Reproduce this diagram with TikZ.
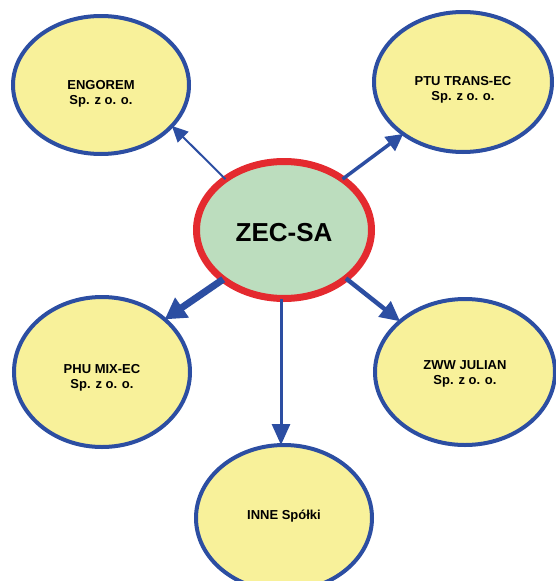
\documentclass[tikz,border=0pt]{standalone}
\usepackage{fontspec}
\setmainfont{Liberation Sans}
\usetikzlibrary{shapes.geometric,arrows.meta}
\definecolor{cblue}{HTML}{2C4EA2}
\definecolor{cyellow}{HTML}{F8F19A}
\definecolor{cgreen}{HTML}{BCDDBE}
\definecolor{cred}{HTML}{E42A2F}
\tikzset{
  firm/.style={ellipse, draw=cblue, fill=cyellow, line width=4pt, outer sep=0pt, inner sep=0pt},
  mainfirm/.style={ellipse, draw=cred, fill=cgreen, line width=7pt, outer sep=0pt, inner sep=0pt, minimum width=175pt, minimum height=137pt},
  firmtext/.style={font=\bfseries\fontsize{13}{15}\selectfont, align=center, inner sep=0pt},
  link/.style={draw=cblue, line cap=butt},
}
\begin{document}
\begin{tikzpicture}[x=1pt,y=-1pt]
\useasboundingbox (0,0) rectangle (556,581);
\clip (0,0) rectangle (556,581);
% ellipses
\node[firm, minimum width=176pt, minimum height=138pt] (eng) at (101,85) {};
\node[firm, minimum width=178pt, minimum height=140pt] (ptu) at (463,82) {};
\node[firm, minimum width=176pt, minimum height=150pt] (phu) at (102,372) {};
\node[firm, minimum width=180pt, minimum height=146pt] (zww) at (465,372) {};
\node[firm, minimum width=176pt, minimum height=146pt] (inne) at (284,518) {};
\node[mainfirm] (zec) at (284,230) {};
% texts
\node[firmtext] (engt) at (101,94) {ENGOREM\\Sp. z o. o.};
\node[firmtext] (ptut) at (463,90) {PTU TRANS-EC\\Sp. z o. o.};
\node[firmtext] (phut) at (102,378) {PHU MIX-EC\\Sp. z o. o.};
\node[firmtext] (zwwt) at (465,374) {ZWW JULIAN\\Sp. z o. o.};
\node[firmtext] (innet) at (284,516) {INNE Spółki};
\node[font=\bfseries\fontsize{26}{30}\selectfont, inner sep=0pt] (zect) at (284,233) {ZEC-SA};
% connectors
\draw[link, line width=2pt, -{Triangle[length=16pt,width=15pt]}] (zec.139) -- (eng.-30);
\draw[link, line width=3.5pt, -{Triangle[length=17pt,width=17pt]}] (zec.41) -- (ptu.221);
\draw[link, line width=7pt, -{Triangle[length=21pt,width=23pt]}] (zec.219) -- (phu.40);
\draw[link, line width=4.5pt, -{Triangle[length=20pt,width=19pt]}] (zec.322) -- (zww.142);
\draw[link, line width=3pt, -{Triangle[length=21pt,width=18pt]}] ([xshift=-3pt]zec.south) -- ([xshift=-3pt]inne.north);
\end{tikzpicture}
\end{document}
